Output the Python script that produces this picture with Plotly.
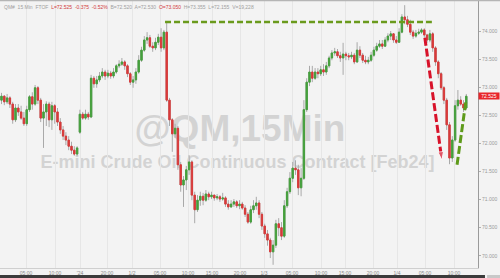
import plotly.graph_objects as go

# ---------------- data (30-minute slots, E-mini crude QM Feb24) ----------------
SLOT = list(range(167))

OPEN = [
    72.77, 72.84, 72.74, 72.81, 72.70, 72.42, 72.63, 72.56, 72.45, 72.35,
    72.60, 72.83, 72.70, 72.99, 72.77, 72.45, 72.56, 72.70, 72.42, 72.67,
    72.56, 72.38, 72.24, 72.13, 72.06, 71.95, 71.88, 71.81, 72.20, 72.52,
    72.45, 72.52, 72.47, 73.16, 73.06, 73.13, 73.20, 73.27, 73.20, 73.25,
    73.20, 73.27, 73.38, 73.41, 73.45, 73.38, 73.24, 73.09, 73.13, 73.27,
    73.48, 73.66, 73.84, 73.88, 73.73, 73.70, 73.80, 73.89, 73.70, 73.98,
    72.77, 72.42, 72.17, 72.27, 71.62, 71.26, 71.35, 71.53, 71.67, 71.08,
    70.82, 70.99, 71.06, 70.99, 71.10, 71.05, 71.08, 71.03, 71.05, 71.01,
    71.03, 70.92, 70.87, 70.92, 70.96, 70.89, 70.92, 70.85, 70.74, 70.60,
    70.82, 70.89, 70.94, 70.74, 70.53, 70.39, 70.28, 70.07, 70.19, 70.57,
    70.50, 70.35, 70.89, 71.14, 71.38, 71.56, 71.53, 71.21, 71.38, 72.60,
    73.09, 73.27, 73.16, 73.27, 73.24, 73.31, 73.27, 73.38, 73.52, 73.61,
    73.63, 73.56, 73.52, 73.59, 73.56, 73.54, 73.57, 73.45, 73.66, 73.57,
    73.48, 73.45, 73.48, 73.57, 73.66, 73.73, 73.77, 73.73, 73.84, 73.91,
    73.95, 73.84, 73.80, 73.98, 74.25, 74.20, 74.12, 73.98, 73.91, 73.96,
    73.98, 74.02, 73.93, 73.84, 73.95, 73.70, 73.45, 73.24, 72.99, 72.77,
    72.33, 71.74, 72.06, 72.67, 72.77, 72.70, 72.63,
]
HIGH = [
    72.90, 72.86, 72.88, 72.84, 72.74, 72.70, 72.70, 72.67, 72.56, 72.67,
    72.86, 72.91, 73.04, 73.02, 72.81, 72.70, 72.75, 72.74, 72.74, 72.70,
    72.63, 72.45, 72.31, 72.20, 72.13, 72.03, 71.95, 71.95, 72.60, 72.56,
    72.60, 72.56, 73.22, 73.20, 73.20, 73.27, 73.34, 73.31, 73.31, 73.29,
    73.34, 73.41, 73.48, 73.52, 73.48, 73.41, 73.27, 73.20, 73.34, 73.57,
    73.72, 73.91, 73.98, 73.93, 73.80, 73.88, 73.95, 74.05, 74.02, 74.16,
    72.81, 72.45, 72.35, 72.31, 71.67, 71.42, 71.60, 71.79, 71.70, 71.14,
    71.08, 71.14, 71.12, 71.17, 71.14, 71.14, 71.08, 71.10, 71.08, 71.12,
    71.06, 70.99, 70.99, 71.01, 70.99, 70.99, 70.96, 70.90, 70.78, 70.89,
    70.99, 71.05, 70.99, 70.78, 70.57, 70.46, 70.32, 70.28, 70.64, 70.67,
    70.60, 70.99, 71.21, 71.49, 71.67, 71.70, 71.62, 71.56, 72.77, 73.16,
    73.38, 73.38, 73.34, 73.34, 73.38, 73.41, 73.45, 73.56, 73.66, 73.70,
    73.68, 73.63, 73.79, 73.63, 73.61, 73.63, 73.61, 73.80, 73.73, 73.61,
    73.56, 73.54, 73.63, 73.72, 73.79, 73.84, 73.84, 73.89, 73.96, 74.00,
    73.96, 73.91, 74.05, 74.30, 74.46, 74.27, 74.20, 74.02, 74.02, 74.04,
    74.05, 74.05, 73.95, 74.02, 73.98, 73.73, 73.48, 73.27, 73.02, 72.81,
    72.38, 72.13, 72.77, 72.95, 72.84, 72.77, 72.88,
]
LOW = [
    72.70, 72.68, 72.70, 72.63, 72.35, 72.38, 72.49, 72.42, 72.31, 72.31,
    72.56, 72.60, 72.67, 72.70, 72.38, 71.92, 72.31, 72.29, 72.24, 72.35,
    72.31, 72.17, 72.06, 71.97, 71.88, 71.81, 71.78, 71.78, 72.17, 72.42,
    72.42, 72.42, 72.45, 72.99, 72.99, 73.09, 73.16, 73.13, 73.16, 73.15,
    73.16, 73.24, 73.34, 73.38, 73.31, 73.18, 73.04, 72.99, 73.06, 73.24,
    73.45, 73.63, 73.77, 73.70, 73.63, 73.66, 73.75, 73.63, 73.66, 72.74,
    72.31, 71.85, 72.10, 71.53, 71.14, 70.87, 71.17, 71.44, 70.99, 70.58,
    70.78, 70.89, 70.90, 70.96, 70.99, 71.01, 70.98, 70.99, 70.96, 70.98,
    70.87, 70.82, 70.85, 70.87, 70.85, 70.83, 70.82, 70.69, 70.57, 70.57,
    70.76, 70.82, 70.67, 70.46, 70.32, 70.18, 69.96, 69.84, 70.14, 70.35,
    70.28, 70.32, 70.85, 71.10, 71.31, 71.44, 71.08, 71.06, 71.35, 72.56,
    73.02, 73.09, 73.13, 73.16, 73.20, 73.20, 73.22, 73.34, 73.48, 73.56,
    73.52, 73.45, 73.22, 73.48, 73.48, 73.50, 73.41, 73.43, 73.52, 73.43,
    73.41, 73.41, 73.45, 73.54, 73.63, 73.70, 73.68, 73.72, 73.80, 73.84,
    73.79, 73.77, 73.79, 73.96, 74.12, 74.07, 73.93, 73.86, 73.88, 73.93,
    73.95, 73.88, 73.79, 73.80, 73.63, 73.38, 73.16, 72.95, 72.70, 72.24,
    71.63, 71.67, 72.03, 72.60, 72.67, 72.56, 72.60,
]
CLOSE = [
    72.84, 72.74, 72.81, 72.70, 72.42, 72.63, 72.56, 72.45, 72.35, 72.60,
    72.83, 72.70, 72.99, 72.77, 72.45, 72.56, 72.70, 72.42, 72.67, 72.56,
    72.38, 72.24, 72.13, 72.06, 71.95, 71.88, 71.81, 71.92, 72.52, 72.45,
    72.52, 72.47, 73.16, 73.06, 73.13, 73.20, 73.27, 73.20, 73.25, 73.20,
    73.27, 73.38, 73.41, 73.45, 73.38, 73.24, 73.09, 73.13, 73.27, 73.48,
    73.66, 73.84, 73.88, 73.73, 73.70, 73.80, 73.89, 73.70, 73.98, 72.77,
    72.42, 72.17, 72.27, 71.62, 71.26, 71.35, 71.53, 71.67, 71.08, 70.82,
    70.99, 71.06, 70.99, 71.10, 71.05, 71.08, 71.03, 71.05, 71.01, 71.03,
    70.92, 70.87, 70.92, 70.96, 70.89, 70.92, 70.85, 70.74, 70.60, 70.82,
    70.89, 70.94, 70.74, 70.53, 70.39, 70.28, 70.07, 70.19, 70.57, 70.50,
    70.35, 70.89, 71.14, 71.38, 71.56, 71.53, 71.21, 71.38, 72.60, 73.09,
    73.27, 73.16, 73.27, 73.24, 73.31, 73.27, 73.38, 73.52, 73.61, 73.63,
    73.56, 73.52, 73.59, 73.56, 73.54, 73.57, 73.45, 73.66, 73.57, 73.48,
    73.45, 73.48, 73.57, 73.66, 73.73, 73.77, 73.73, 73.84, 73.91, 73.95,
    73.84, 73.80, 73.98, 74.25, 74.20, 74.12, 73.98, 73.91, 73.96, 73.98,
    74.02, 73.93, 73.84, 73.95, 73.70, 73.45, 73.24, 72.99, 72.77, 72.33,
    71.74, 72.06, 72.67, 72.77, 72.70, 72.63, 72.84,
]

TICK_SLOTS = [8.75, 19.11, 28.04, 37.68, 46.61, 56.61, 66.61, 75.18, 85.18,
              93.75, 103.75, 114.11, 122.68, 132.68, 141.25, 151.25, 161.61]
TICK_TEXT = ["05:00", "10:00", "'24", "20:00", "1/2", "05:00", "10:00", "15:00",
             "20:00", "1/3", "05:00", "10:00", "15:00", "20:00", "1/4", "05:00", "10:00"]
PRICE_TICKS = [70.0, 70.5, 71.0, 71.5, 72.0, 72.5, 73.0, 73.5, 74.0]
LAST_LABEL = "72.525"

# annotation drawings (analyst's dashed lines)
RESIST_SLOTS = [58.4, 153.7]
DROP_SLOTS = [151.2, 157.3]
DROP_PRICES = [73.88, 71.70]
REBOUND_SLOTS = [162.7, 165.9]
REBOUND_PRICES = [71.62, 72.77]

# ---------------- figure ----------------
X_RANGE = [-0.536, 170.18]
Y_RANGE = [69.783, 74.552]
GREEN = "#45a03c"
RED = "#d93a3a"
WICK = "#a9a9a9"
BG = "#f3f3f3"

body_hi = [max(o, c) for o, c in zip(OPEN, CLOSE)]
body_lo = [min(o, c) for o, c in zip(OPEN, CLOSE)]

fig = go.Figure()
# gray wicks
fig.add_trace(go.Candlestick(
    x=SLOT, open=OPEN, high=HIGH, low=LOW, close=CLOSE,
    increasing=dict(line=dict(color=WICK, width=1), fillcolor=WICK),
    decreasing=dict(line=dict(color=WICK, width=1), fillcolor=WICK),
    hoverinfo="skip", showlegend=False))
# coloured bodies
fig.add_trace(go.Candlestick(
    x=SLOT, open=OPEN, high=body_hi, low=body_lo, close=CLOSE,
    increasing=dict(line=dict(color=GREEN, width=1), fillcolor=GREEN),
    decreasing=dict(line=dict(color=RED, width=1), fillcolor=RED),
    hoverinfo="skip", showlegend=False))

# red dashed arrow (drop)
fig.add_trace(go.Scatter(
    x=DROP_SLOTS, y=DROP_PRICES, mode="lines+markers",
    line=dict(color="#d8122a", width=3, dash="8px,3px"),
    marker=dict(symbol="arrow", size=[0, 9], angleref="previous", color="#d8122a"),
    hoverinfo="skip", showlegend=False))
# green dashed rebound line
fig.add_trace(go.Scatter(
    x=REBOUND_SLOTS, y=REBOUND_PRICES, mode="lines",
    line=dict(color="#5e9a1a", width=3, dash="8px,3px"),
    hoverinfo="skip", showlegend=False))

resist = HIGH[59]
shapes = [
    dict(type="line", xref="x", yref="y", x0=RESIST_SLOTS[0], x1=RESIST_SLOTS[1],
         y0=resist, y1=resist, line=dict(color="#6a9a1c", width=2.5, dash="6px,3px")),
    # top border
    dict(type="line", xref="paper", yref="paper", x0=0, x1=1.05, y0=0.999, y1=0.999,
         line=dict(color="#b5b5b5", width=2)),
    # bottom scrollbar
    dict(type="rect", xref="paper", yref="paper", x0=0, x1=1.0146, y0=-0.0373, y1=-0.0261,
         line=dict(width=0), fillcolor="#3b3b3b"),
    dict(type="rect", xref="paper", yref="paper", x0=1.019, x1=1.05, y0=-0.0373, y1=-0.0261,
         line=dict(width=0), fillcolor="#c8c8c8"),
    # watermark (below traces)
    dict(type="rect", xref="paper", yref="paper", x0=0.2, x1=0.804, y0=0.48, y1=0.59,
         layer="below", line=dict(width=0), fillcolor="rgba(0,0,0,0)",
         label=dict(text="@QM,15Min", textposition="middle center",
                    font=dict(family="Liberation Sans", size=37, color="#d3d3d3", weight="bold"))),
    dict(type="rect", xref="paper", yref="paper", x0=0.05, x1=0.944, y0=0.37, y1=0.436,
         layer="below", line=dict(width=0), fillcolor="rgba(0,0,0,0)",
         label=dict(text="E-mini Crude Oil Continuous Contract [Feb24]", textposition="middle center",
                    font=dict(family="Liberation Sans", size=18, color="#d3d3d3", weight="bold"))),
]

header = ("<span style='color:#a0a0a0'>QM#  15 Min  FTOF  </span>"
          "<span style='color:#d23a3a'>L=72.525  -0.375  -0.52%</span>"
          "<span style='color:#a0a0a0'>  B=72.520  A=72.530  </span>"
          "<span style='color:#d23a3a'>O=73.050</span>"
          "<span style='color:#a0a0a0'>  H=73.355  L=72.155  V=19,228</span>")

annotations = [
    dict(xref="paper", yref="paper", x=0.004, y=0.974, xanchor="left", yanchor="middle",
         text=header, showarrow=False, font=dict(family="Liberation Sans", size=5, color="#a0a0a0")),
    dict(xref="paper", yref="y", x=1.0, y=CLOSE[-1], xanchor="left", yanchor="middle",
         text=LAST_LABEL, showarrow=False, bgcolor="#e8262b", width=20, height=6, borderpad=0,
         font=dict(family="Liberation Sans", size=5, color="#ffffff")),
]

fig.update_layout(
    width=500, height=278,
    margin=dict(l=0, r=22, t=0, b=10),
    paper_bgcolor=BG, plot_bgcolor=BG,
    showlegend=False,
    shapes=shapes, annotations=annotations,
    xaxis=dict(range=X_RANGE, rangeslider=dict(visible=False),
               tickvals=TICK_SLOTS, ticktext=TICK_TEXT,
               tickfont=dict(family="Liberation Sans", size=5, color="#8a8a8a"),
               showgrid=True, gridcolor="#e6e6e6", gridwidth=1,
               showline=True, linecolor="#cfcfcf", linewidth=1,
               ticks="", zeroline=False, fixedrange=True),
    yaxis=dict(range=Y_RANGE, side="right",
               tickvals=PRICE_TICKS, ticktext=[f"{v:.3f}" for v in PRICE_TICKS],
               tickfont=dict(family="Liberation Sans", size=5, color="#9a9a9a"),
               showgrid=False, zeroline=False,
               showline=True, linecolor="#9a9a9a", linewidth=1,
               ticks="outside", ticklen=2, tickcolor="#b0b0b0"),
)

fig.write_html("out.html")
